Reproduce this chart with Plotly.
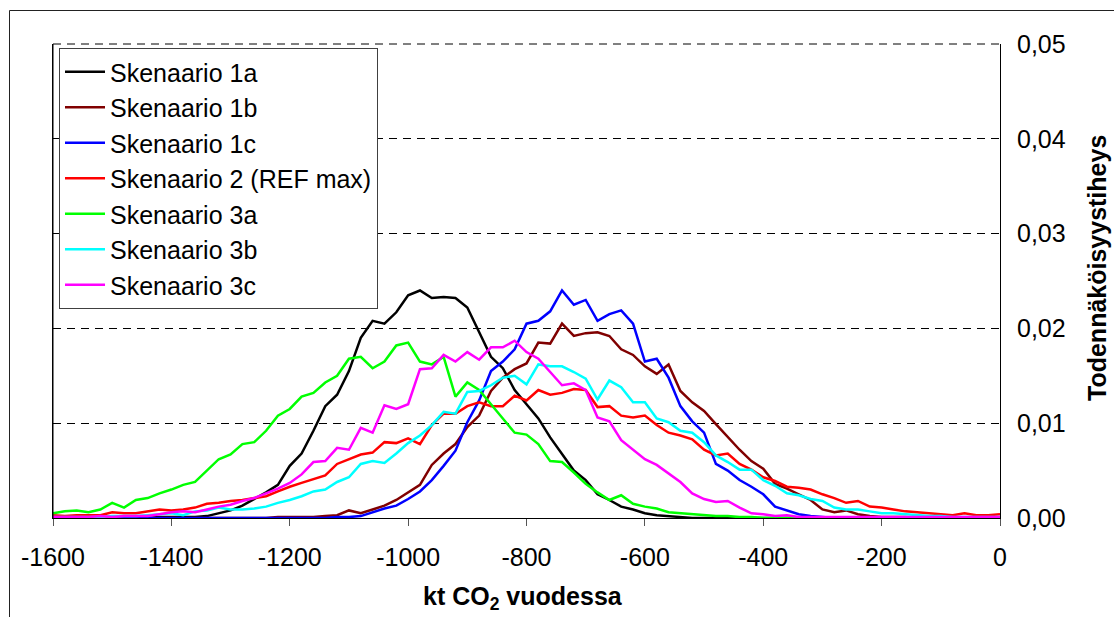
import plotly.graph_objects as go

# x grid (kt CO2 per year), 20 kt steps from -1600 to 0
x_kt = list(range(-1600, 1, 20))

# Probability density values (rows of 10 = 200 kt)
s1a = [0, 0, 0, 0, 0, 0, 0, 0, 0, 0.0001,
       0.0001, 0.0001, 0.0001, 0.0002, 0.0005, 0.0008, 0.0013, 0.0020, 0.0027, 0.0035,
       0.0055, 0.0068, 0.0092, 0.0118, 0.0130, 0.0155, 0.0190, 0.0208, 0.0205, 0.0217,
       0.0235, 0.0240, 0.0232, 0.0233, 0.0232, 0.0222, 0.0196, 0.0170, 0.0158, 0.0135,
       0.0120, 0.0105, 0.0085, 0.0068, 0.0050, 0.0040, 0.0025, 0.0019, 0.0012, 0.0009,
       0.0005, 0.0003, 0.0002, 0.0001, 0, 0, 0, 0, 0, 0,
       0, 0, 0, 0, 0, 0, 0, 0, 0, 0,
       0, 0, 0, 0, 0, 0, 0, 0, 0, 0,
       0]
s1b = [0, 0, 0, 0, 0, 0, 0, 0, 0, 0,
       0, 0, 0, 0, 0, 0, 0, 0, 0, 0.0001,
       0.0001, 0.0001, 0.0001, 0.0002, 0.0003, 0.0008, 0.0005, 0.0009, 0.0013, 0.0019,
       0.0027, 0.0035, 0.0056, 0.0068, 0.0078, 0.0096, 0.0108, 0.0134, 0.0148, 0.0157,
       0.0163, 0.0185, 0.0184, 0.0205, 0.0192, 0.0195, 0.0196, 0.0192, 0.0178, 0.0172,
       0.0160, 0.0152, 0.0162, 0.0134, 0.0122, 0.0113, 0.0099, 0.0085, 0.0072, 0.0060,
       0.0052, 0.0036, 0.0031, 0.0025, 0.0019, 0.0009, 0.0006, 0.0008, 0.0004, 0.0002,
       0.0001, 0.0001, 0.0001, 0, 0, 0, 0, 0, 0, 0,
       0]
s1c = [0, 0, 0, 0, 0, 0, 0, 0, 0, 0,
       0, 0, 0, 0, 0, 0, 0, 0, 0, 0,
       0, 0, 0, 0, 0.0001, 0.0001, 0.0002, 0.0006, 0.0010, 0.0013,
       0.0020, 0.0028, 0.0040, 0.0055, 0.0071, 0.0101, 0.0124, 0.0155, 0.0165, 0.0178,
       0.0205, 0.0208, 0.0218, 0.0240, 0.0225, 0.0230, 0.0208, 0.0215, 0.0219, 0.0205,
       0.0165, 0.0168, 0.0148, 0.0118, 0.0102, 0.0090, 0.0057, 0.0050, 0.0040, 0.0033,
       0.0025, 0.0012, 0.0008, 0.0004, 0.0002, 0.0001, 0, 0, 0, 0,
       0, 0, 0, 0, 0, 0, 0, 0, 0, 0,
       0]
s2 = [0.0003, 0.0002, 0.0003, 0.0003, 0.0003, 0.0006, 0.0005, 0.0005, 0.0007, 0.0009,
      0.0008, 0.0009, 0.0011, 0.0015, 0.0016, 0.0018, 0.0019, 0.0021, 0.0023, 0.0028,
      0.0033, 0.0037, 0.0041, 0.0045, 0.0057, 0.0062, 0.0067, 0.0069, 0.0080, 0.0079,
      0.0084, 0.0078, 0.0098, 0.0110, 0.0110, 0.0118, 0.0122, 0.0118, 0.0118, 0.0129,
      0.0124, 0.0135, 0.0130, 0.0132, 0.0136, 0.0135, 0.0117, 0.0118, 0.0108, 0.0106,
      0.0108, 0.0098, 0.0090, 0.0087, 0.0083, 0.0072, 0.0066, 0.0068, 0.0057, 0.0051,
      0.0043, 0.0039, 0.0033, 0.0032, 0.0030, 0.0025, 0.0021, 0.0016, 0.0018, 0.0012,
      0.0011, 0.0009, 0.0007, 0.0006, 0.0005, 0.0004, 0.0003, 0.0005, 0.0003, 0.0003,
      0.0004]
s3a = [0.0005, 0.0007, 0.0008, 0.0006, 0.0009, 0.0016, 0.0011, 0.0019, 0.0021, 0.0026,
       0.0030, 0.0035, 0.0038, 0.0050, 0.0062, 0.0067, 0.0078, 0.0080, 0.0092, 0.0108,
       0.0115, 0.0128, 0.0132, 0.0143, 0.0150, 0.0168, 0.0170, 0.0158, 0.0165, 0.0182,
       0.0185, 0.0165, 0.0162, 0.0170, 0.0128, 0.0143, 0.0135, 0.0120, 0.0105, 0.0090,
       0.0088, 0.0078, 0.0060, 0.0059, 0.0048, 0.0036, 0.0027, 0.0019, 0.0024, 0.0015,
       0.0012, 0.0010, 0.0006, 0.0005, 0.0004, 0.0003, 0.0002, 0.0002, 0.0001, 0.0001,
       0, 0, 0, 0, 0, 0, 0, 0, 0, 0,
       0, 0, 0, 0, 0, 0, 0, 0, 0, 0,
       0]
s3b = [0.0001, 0.0001, 0.0001, 0.0001, 0.0001, 0.0002, 0.0002, 0.0002, 0.0003, 0.0004,
       0.0005, 0.0003, 0.0007, 0.0008, 0.0011, 0.0009, 0.0009, 0.0010, 0.0012, 0.0016,
       0.0019, 0.0023, 0.0028, 0.0030, 0.0038, 0.0043, 0.0057, 0.0060, 0.0058, 0.0068,
       0.0079, 0.0087, 0.0098, 0.0112, 0.0110, 0.0133, 0.0134, 0.0140, 0.0148, 0.0150,
       0.0141, 0.0162, 0.0160, 0.0160, 0.0154, 0.0147, 0.0125, 0.0145, 0.0138, 0.0122,
       0.0122, 0.0105, 0.0101, 0.0092, 0.0090, 0.0080, 0.0066, 0.0059, 0.0051, 0.0051,
       0.0040, 0.0034, 0.0026, 0.0024, 0.0020, 0.0018, 0.0011, 0.0009, 0.0009, 0.0007,
       0.0005, 0.0005, 0.0004, 0.0003, 0.0002, 0.0002, 0.0001, 0.0001, 0.0001, 0.0001,
       0.0001]
s3c = [0.0001, 0.0001, 0.0001, 0.0001, 0.0002, 0.0001, 0.0002, 0.0002, 0.0002, 0.0004,
       0.0006, 0.0007, 0.0006, 0.0009, 0.0012, 0.0014, 0.0018, 0.0021, 0.0026, 0.0031,
       0.0037, 0.0046, 0.0059, 0.0060, 0.0074, 0.0072, 0.0095, 0.0090, 0.0119, 0.0115,
       0.0120, 0.0157, 0.0158, 0.0172, 0.0165, 0.0175, 0.0167, 0.0180, 0.0180, 0.0187,
       0.0175, 0.0168, 0.0154, 0.0140, 0.0142, 0.0135, 0.0106, 0.0102, 0.0082, 0.0072,
       0.0062, 0.0056, 0.0047, 0.0038, 0.0026, 0.0020, 0.0017, 0.0018, 0.0011, 0.0005,
       0.0004, 0.0002, 0.0003, 0.0001, 0.0001, 0.0001, 0.0001, 0.0001, 0.0001, 0.0001,
       0.0001, 0.0001, 0.0001, 0.0001, 0.0001, 0.0001, 0.0001, 0.0001, 0.0001, 0.0001,
       0.0001]

series_names = ["Skenaario 1a", "Skenaario 1b", "Skenaario 1c",
                "Skenaario 2 (REF max)", "Skenaario 3a", "Skenaario 3b", "Skenaario 3c"]
series_values = [s1a, s1b, s1c, s2, s3a, s3b, s3c]
series_colors = ["#000000", "#800000", "#0000FF", "#FF0000", "#00FF00", "#00FFFF", "#FF00FF"]

x_ticks = [-1600, -1400, -1200, -1000, -800, -600, -400, -200, 0]
y_ticks = [0.0, 0.01, 0.02, 0.03, 0.04, 0.05]

FONT = "Liberation Sans, Arial, sans-serif"

fig = go.Figure()
for i, (name, vals, col) in enumerate(zip(series_names, series_values, series_colors)):
    fig.add_trace(go.Scatter(x=x_kt, y=vals, mode="lines", name=name,
                             legendgroup=f"g{i}",
                             line=dict(color=col, width=2.5)))

W, H = 1114, 617
L, R, T, B = 53, 114, 44, 99
pw, ph = W - L - R, H - T - B

def px2x(px):
    return (px - L) / pw

def py2y(py):
    return (H - B - py) / ph

fig.update_layout(
    width=W, height=H,
    margin=dict(l=L, r=R, t=T, b=B),
    paper_bgcolor="white", plot_bgcolor="white",
    separators=", ",
    font=dict(family=FONT, size=25, color="black"),
    showlegend=True,
    legend=dict(x=px2x(59), y=py2y(48), xanchor="left", yanchor="top",
                bgcolor="white", bordercolor="#404040", borderwidth=1,
                font=dict(family=FONT, size=25, color="black"),
                tracegroupgap=0, itemwidth=40),
    xaxis=dict(range=[-1600, 0], tickvals=x_ticks, ticktext=[str(v) for v in x_ticks],
               showgrid=False, zeroline=False, showline=True, linecolor="black", linewidth=1,
               ticks="outside", ticklen=7, tickcolor="#555555", tickwidth=1,
               ticklabelstandoff=10,
               tickfont=dict(family=FONT, size=25, color="black")),
    yaxis=dict(range=[0, 0.05], side="right", tickvals=y_ticks,
               ticktext=[f"{v:.2f}".replace(".", ",") for v in y_ticks],
               showgrid=True, gridcolor="black", gridwidth=1, griddash="8px,6px",
               zeroline=False, showline=True, mirror=True, linecolor="black", linewidth=1,
               ticks="", ticklabelstandoff=11,
               tickfont=dict(family=FONT, size=25, color="black")),
    annotations=[
        dict(text="<b>kt CO<sub>2</sub> vuodessa</b>", xref="paper", yref="paper",
             x=px2x(523), y=py2y(598), xanchor="center", yanchor="middle",
             showarrow=False, font=dict(family=FONT, size=25, color="black")),
        dict(text="<b>Todennäköisyystiheys</b>", xref="paper", yref="paper",
             x=px2x(1097), y=py2y(268), xanchor="center", yanchor="middle",
             textangle=-90, showarrow=False, font=dict(family=FONT, size=25, color="black")),
    ],
    shapes=[
        # outer chart frame (top and left edges visible)
        dict(type="line", xref="paper", yref="paper", x0=px2x(9.5), x1=px2x(1120),
             y0=py2y(10.5), y1=py2y(10.5), line=dict(color="#222222", width=1)),
        dict(type="line", xref="paper", yref="paper", x0=px2x(9.5), x1=px2x(9.5),
             y0=py2y(10.5), y1=py2y(625), line=dict(color="#222222", width=1)),
        # plot-area left edge and dashed top gridline
        dict(type="line", xref="paper", yref="paper", x0=0, x1=0, y0=0, y1=1,
             line=dict(color="black", width=1), layer="above"),
        dict(type="line", xref="paper", yref="paper", x0=0, x1=1, y0=1, y1=1,
             line=dict(color="black", width=1, dash="8px,6px"), layer="below"),
    ],
)

fig.write_html("out.html")
